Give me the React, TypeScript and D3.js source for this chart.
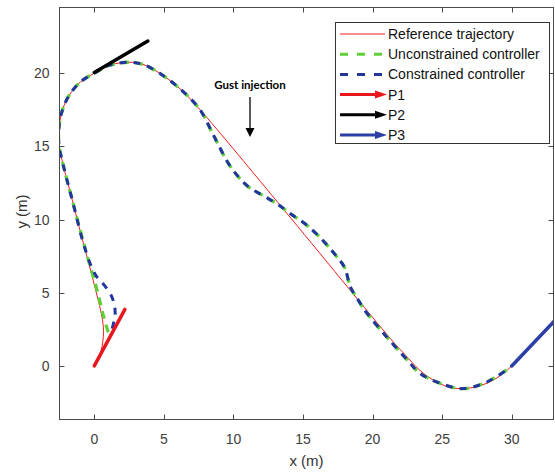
import React, {useEffect, useRef} from 'react'
import * as d3 from 'd3'

// reference path (red)
const refX = [0, 0.35, 0.55, 0.65, 0.65, 0.5, 0.25, -0.2, -0.9, -1.6, -2.2, -2.55, -2.5, -2.25, -1.8, -1.0, 0, 1.1, 2.5, 3.5, 4.7, 6.2, 7.6, 13.6, 21.3, 22.3, 23.4, 24.5, 25.5, 26.3, 27.3, 28.3, 29.2, 30]
const refY = [0, 0.6, 1.3, 2.0, 2.7, 3.6, 4.6, 6.3, 8.8, 11.4, 13.6, 15.2, 16.6, 17.6, 18.5, 19.4, 20.0, 20.55, 20.75, 20.6, 20.0, 18.9, 17.5, 10.7, 1.85, 0.8, -0.3, -1.05, -1.45, -1.55, -1.45, -1.15, -0.65, 0]

// unconstrained controller (green)
const uncX = [1.0, 0.65, 0.3, -0.07, -0.43, -0.85, -1.6, -2.2, -2.55, -2.5, -2.25, -1.8, -1.0, 0, 1.1, 2.5, 3.5, 4.7, 6.2, 7.6, 8.6, 9.8, 11.0, 12.2, 13.1, 14.1, 15.3, 16.5, 17.4, 18.0, 18.4, 18.9, 19.6, 21.0, 22.5, 23.4, 24.9, 26.5, 28.2, 29.9]
const uncY = [2.3, 3.45, 4.8, 6.1, 7.25, 8.7, 11.4, 13.6, 15.2, 16.6, 17.6, 18.5, 19.4, 20.0, 20.55, 20.75, 20.6, 20.0, 18.9, 17.5, 15.7, 13.6, 12.3, 11.6, 11.1, 10.4, 9.6, 8.5, 7.5, 6.7, 5.4, 4.6, 3.6, 2.0, 0.4, -0.5, -1.2, -1.55, -1.1, -0.1]

// constrained controller (blue)
const conX = [1.15, 1.5, 1.27, 0.65, 0.17, -0.3, -0.85, -1.6, -2.2, -2.55, -2.5, -2.25, -1.8, -1.0, 0, 1.1, 2.5, 3.5, 4.7, 6.2, 7.6, 8.6, 9.8, 11.0, 12.2, 13.1, 14.1, 15.3, 16.5, 17.4, 18.0, 18.4, 18.9, 19.6, 21.0, 22.5, 23.4, 24.9, 26.5, 28.2, 29.9]
const conY = [2.1, 3.6, 4.7, 5.6, 6.1, 7.0, 8.6, 11.4, 13.6, 15.2, 16.6, 17.6, 18.5, 19.4, 20.0, 20.55, 20.75, 20.6, 20.0, 18.9, 17.5, 15.7, 13.6, 12.3, 11.6, 11.1, 10.4, 9.6, 8.5, 7.5, 6.7, 5.4, 4.6, 3.6, 2.0, 0.4, -0.5, -1.2, -1.55, -1.1, -0.1]

// direction arrows P1..P3
const arrowNames = ['P1', 'P2', 'P3']
const arrowColors = ['#e8171d', '#000000', '#2b3fa6']
const arrowStart = [[0, 0], [0, 20.05], [30, 0]]
const arrowEnd = [[2.2, 3.86], [3.85, 22.2], [33.1, 3.1]]

const xTicks = [0, 5, 10, 15, 20, 25, 30]
const yTicks = [0, 5, 10, 15, 20]
const legendLabels = ['Reference trajectory', 'Unconstrained controller', 'Constrained controller', 'P1', 'P2', 'P3']

const W = 555
const H = 472

const App = () => {
  const ref = useRef<SVGSVGElement>(null)

  useEffect(() => {
    const left = 59.5, right = 553.5, top = 7.5, bottom = 419.5

    const x = d3.scaleLinear().domain([-2.5, 33]).range([left, right])
    const y = d3.scaleLinear().domain([-3.66, 24.49]).range([bottom, top])

    const svg = d3.select(ref.current)
    svg.selectAll('*').remove()

    svg.append('defs').append('clipPath').attr('id', 'plotclip')
      .append('rect')
      .attr('x', left).attr('y', top)
      .attr('width', right - left).attr('height', bottom - top)

    const plot = svg.append('g').attr('clip-path', 'url(#plotclip)')

    const line = d3.line<[number, number]>()
      .x(d => x(d[0]))
      .y(d => y(d[1]))
      .curve(d3.curveCatmullRom.alpha(0.5))

    const zip = (xs: number[], ys: number[]) => xs.map((v, i) => [v, ys[i]] as [number, number])

    plot.append('path')
      .datum(zip(refX, refY))
      .attr('fill', 'none')
      .attr('stroke', '#f01c1c')
      .attr('stroke-width', 1)
      .attr('d', line)

    plot.append('path')
      .datum(zip(uncX, uncY))
      .attr('fill', 'none')
      .attr('stroke', '#5fd03a')
      .attr('stroke-width', 3.3)
      .attr('stroke-dasharray', '8,6')
      .attr('d', line)

    plot.append('path')
      .datum(zip(conX, conY))
      .attr('fill', 'none')
      .attr('stroke', '#24369e')
      .attr('stroke-width', 3)
      .attr('stroke-dasharray', '7,7')
      .attr('stroke-dashoffset', 7)
      .attr('d', line)

    arrowNames.forEach((n, i) => {
      plot.append('line')
        .attr('x1', x(arrowStart[i][0])).attr('y1', y(arrowStart[i][1]))
        .attr('x2', x(arrowEnd[i][0])).attr('y2', y(arrowEnd[i][1]))
        .attr('stroke', arrowColors[i])
        .attr('stroke-width', 3.5)
        .attr('stroke-linecap', 'round')
    })

    // axes box and inward ticks
    const axisColor = '#4a4a4a'
    svg.append('rect')
      .attr('x', left).attr('y', top)
      .attr('width', right - left).attr('height', bottom - top)
      .attr('fill', 'none').attr('stroke', axisColor).attr('stroke-width', 1)

    const tickLen = 5
    const g = svg.append('g').attr('stroke', axisColor).attr('stroke-width', 1)
    xTicks.forEach(t => {
      const px = Math.round(x(t)) + 0.5
      g.append('line').attr('x1', px).attr('x2', px).attr('y1', bottom).attr('y2', bottom - tickLen)
      g.append('line').attr('x1', px).attr('x2', px).attr('y1', top).attr('y2', top + tickLen)
    })
    yTicks.forEach(t => {
      const py = Math.round(y(t)) + 0.5
      g.append('line').attr('x1', left).attr('x2', left + tickLen).attr('y1', py).attr('y2', py)
      g.append('line').attr('x1', right).attr('x2', right - tickLen).attr('y1', py).attr('y2', py)
    })

    const font = '"Liberation Sans", Arial, sans-serif'
    svg.append('g').selectAll('text')
      .data(xTicks)
      .enter()
      .append('text')
      .attr('x', d => x(d))
      .attr('y', bottom + 24)
      .attr('text-anchor', 'middle')
      .attr('font-family', font)
      .attr('font-size', 14)
      .attr('fill', '#404040')
      .text(d => d)

    svg.append('g').selectAll('text')
      .data(yTicks)
      .enter()
      .append('text')
      .attr('x', left - 10)
      .attr('y', d => y(d) + 5)
      .attr('text-anchor', 'end')
      .attr('font-family', font)
      .attr('font-size', 14)
      .attr('fill', '#404040')
      .text(d => d)

    svg.append('text')
      .attr('x', (left + right) / 2)
      .attr('y', bottom + 46)
      .attr('text-anchor', 'middle')
      .attr('font-family', font)
      .attr('font-size', 15)
      .attr('fill', '#333')
      .text('x (m)')

    svg.append('text')
      .attr('transform', `translate(27, ${(top + bottom) / 2 - 2}) rotate(-90)`)
      .attr('text-anchor', 'middle')
      .attr('font-family', font)
      .attr('font-size', 15)
      .attr('fill', '#333')
      .text('y (m)')

    // gust annotation
    svg.append('text')
      .attr('x', 250)
      .attr('y', 89)
      .attr('text-anchor', 'middle')
      .attr('font-family', 'Lato, "Open Sans", sans-serif')
      .attr('font-weight', 'bold')
      .attr('font-size', 11.5)
      .attr('fill', '#000')
      .text('Gust injection')
    svg.append('line')
      .attr('x1', 250).attr('x2', 250).attr('y1', 97).attr('y2', 130)
      .attr('stroke', '#000').attr('stroke-width', 1.3)
    svg.append('path')
      .attr('d', 'M245.5,128 L254.5,128 L250,137 Z')
      .attr('fill', '#000')

    // legend
    const lg = svg.append('g')
    lg.append('rect')
      .attr('x', 335.5).attr('y', 22.5).attr('width', 214).attr('height', 121)
      .attr('fill', '#fff').attr('stroke', '#333').attr('stroke-width', 1)

    const rowY = (i: number) => 34 + i * 20.2
    const lx0 = 340, lx1 = 385
    legendLabels.forEach((label, i) => {
      const yy = rowY(i)
      if (i === 0) {
        lg.append('line').attr('x1', lx0).attr('x2', lx1).attr('y1', yy).attr('y2', yy)
          .attr('stroke', '#f01c1c').attr('stroke-width', 1)
      } else if (i === 1 || i === 2) {
        lg.append('line').attr('x1', lx0).attr('x2', lx1).attr('y1', yy).attr('y2', yy)
          .attr('stroke', i === 1 ? '#5fd03a' : '#24369e').attr('stroke-width', 3)
          .attr('stroke-dasharray', '8,9')
      } else {
        const c = arrowColors[i - 3]
        lg.append('line').attr('x1', lx0).attr('x2', lx1 - 8).attr('y1', yy).attr('y2', yy)
          .attr('stroke', c).attr('stroke-width', 3)
        lg.append('path')
          .attr('d', `M${lx1 - 10},${yy - 4} L${lx1 + 2},${yy} L${lx1 - 10},${yy + 4} Z`)
          .attr('fill', c)
      }
      lg.append('text')
        .attr('x', 388)
        .attr('y', yy + 5)
        .attr('font-family', font)
        .attr('font-size', 14)
        .attr('fill', '#111')
        .text(label)
    })

    return () => { svg.selectAll('*').remove() }
  }, [])

  return (
    <div style={{position: 'fixed', left: 0, top: 0, width: W, height: H, background: '#fff'}}>
      <svg ref={ref} width={W} height={H}></svg>
    </div>
  )
}

export default App
